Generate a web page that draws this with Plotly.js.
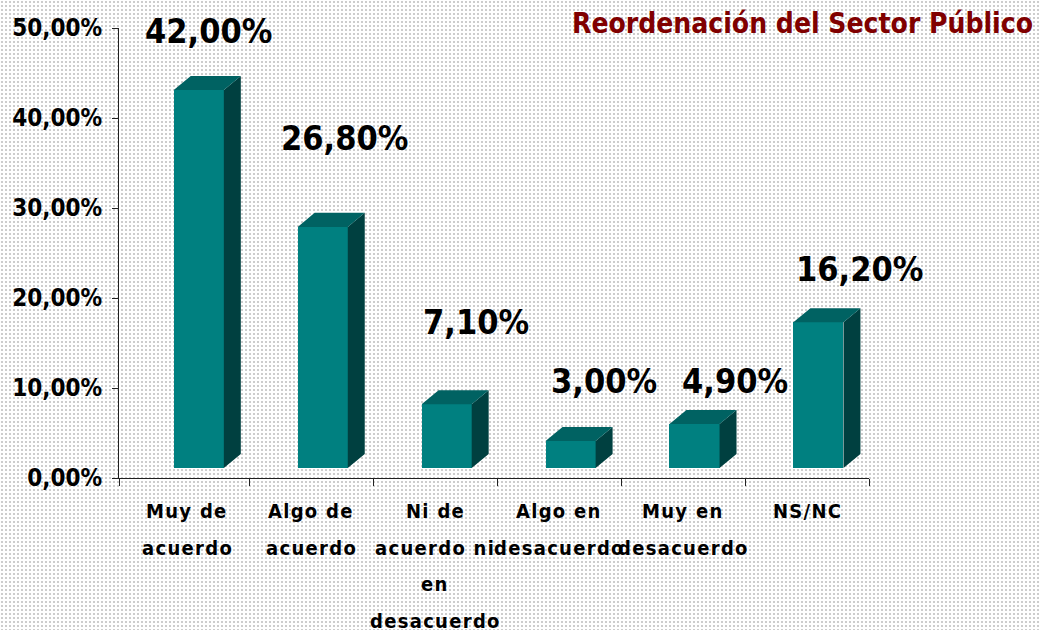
<!DOCTYPE html>
<html>
<head>
<meta charset="utf-8">
<script src="https://cdn.plot.ly/plotly-3.0.1.min.js"></script>
<style>
html, body { margin: 0; padding: 0; }
body {
  width: 1039px; height: 630px; overflow: hidden;
  background-color: #ffffff;
  background-image: radial-gradient(circle at center, #cdcdcd 0.8px, rgba(255,255,255,0) 1.3px);
  background-size: 4px 4px;
}
#chart { width: 1039px; height: 630px; }
</style>
</head>
<body>
<div id="chart"></div>
<script>
// ---------------- DATA ----------------
const categories = [
  "Muy de|acuerdo",
  "Algo de|acuerdo",
  "Ni de|acuerdo ni|en|desacuerdo",
  "Algo en|desacuerdo",
  "Muy en|desacuerdo",
  "NS/NC"
];
const values = [42.0, 26.8, 7.1, 3.0, 4.9, 16.2];
const valueLabels = ["42,00%", "26,80%", "7,10%", "3,00%", "4,90%", "16,20%"];
const yTickValues = [0, 10, 20, 30, 40, 50];
const yTickLabels = ["0,00%", "10,00%", "20,00%", "30,00%", "40,00%", "50,00%"];
const chartTitle = "Reordenación del Sector Público";

// ---------------- LAYOUT / STYLE ----------------
const FONT = "'DejaVu Sans Condensed', 'DejaVu Sans', sans-serif";
const xRange = [-0.552, 5.5];
const floorBase = 1.1;      // 3D floor lift (value units)
const frontLeft = -0.11;    // front face offset from category center
const frontWidth = 0.404;
const depthX = 0.137;       // 3D depth, category units
const depthY = 1.56;        // 3D depth, value units
const labelOffsetX = [0.17, 0.27, 0.33, 0.36, 0.42, 0.42];
const labelCenterY = [49.7, 37.8, 17.3, 10.8, 10.8, 23.2];

const idx = values.map((v, i) => i);

const frontTrace = {
  type: "bar",
  x: idx,
  y: values,
  base: values.map(() => floorBase),
  width: frontWidth,
  offset: frontLeft,
  marker: { color: "#008080", line: { width: 0 } },
  hoverinfo: "skip",
  showlegend: false
};

const sx = [], sy = [];
const tx = [], ty = [];
values.forEach((v, i) => {
  const x0 = i + frontLeft, x1 = x0 + frontWidth;
  const b = floorBase, t = floorBase + v;
  sx.push(x1, x1 + depthX, x1 + depthX, x1, x1, null);
  sy.push(b, b + depthY, t + depthY, t, b, null);
  tx.push(x0, x1, x1 + depthX, x0 + depthX, x0, null);
  ty.push(t, t, t + depthY, t + depthY, t, null);
});
const sideTrace = {
  type: "scatter", mode: "lines", x: sx, y: sy, fill: "toself",
  fillcolor: "#004040", line: { width: 0, color: "#004040" },
  hoverinfo: "skip", showlegend: false
};
const topTrace = {
  type: "scatter", mode: "lines", x: tx, y: ty, fill: "toself",
  fillcolor: "#006262", line: { width: 0, color: "#006262" },
  hoverinfo: "skip", showlegend: false
};

const annotations = [];
values.forEach((v, i) => {
  annotations.push({
    x: i + labelOffsetX[i], y: labelCenterY[i], xref: "x", yref: "y",
    text: valueLabels[i], showarrow: false, xanchor: "center", yanchor: "middle",
    font: { family: FONT, size: 34, color: "#000", weight: "bold" }
  });
});
categories.forEach((c, i) => {
  c.split("|").forEach((line, k) => {
    annotations.push({
      x: i, y: 0, xref: "x", yref: "paper", yshift: -(33 + 36.5 * k),
      text: "<span style=\"letter-spacing:1.3px\">" + line + "</span>",
      showarrow: false, xanchor: "center", yanchor: "middle",
      font: { family: FONT, size: 20, color: "#000", weight: "bold" }
    });
  });
});

const xTicks = [xRange[0]].concat(idx.map(i => i + 0.5));

const layout = {
  width: 1039, height: 630,
  margin: { l: 119, r: 170, t: 28, b: 152, pad: 0 },
  paper_bgcolor: "rgba(0,0,0,0)",
  plot_bgcolor: "rgba(0,0,0,0)",
  title: {
    text: chartTitle, xref: "container", yref: "container",
    x: 1033 / 1039, xanchor: "right", y: 1 - 23 / 630, yanchor: "middle",
    font: { family: FONT, size: 28, color: "#800000", weight: "bold" }
  },
  xaxis: {
    range: xRange, tickmode: "array", tickvals: xTicks, showticklabels: false,
    ticks: "outside", ticklen: 7, tickcolor: "#222", tickwidth: 1,
    showline: true, linecolor: "#222", linewidth: 1,
    showgrid: false, zeroline: false, fixedrange: true
  },
  yaxis: {
    range: [0, 50], tickmode: "array", tickvals: yTickValues, ticktext: yTickLabels,
    ticks: "outside", ticklen: 6, tickcolor: "#222", tickwidth: 1,
    ticklabelstandoff: 5,
    tickfont: { family: FONT, size: 24, color: "#000", weight: "bold" },
    showline: true, linecolor: "#222", linewidth: 1,
    showgrid: false, zeroline: false, fixedrange: true
  },
  bargap: 0,
  annotations: annotations,
  showlegend: false
};

Plotly.newPlot("chart", [frontTrace, sideTrace, topTrace], layout, { displayModeBar: false, staticPlot: true });
</script>
</body>
</html>
